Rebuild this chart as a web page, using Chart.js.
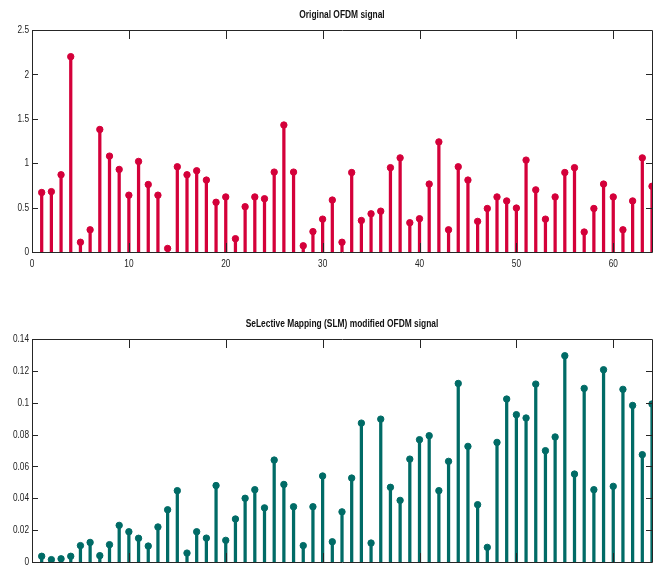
<!DOCTYPE html>
<html>
<head>
<meta charset="utf-8">
<script src="https://cdn.jsdelivr.net/npm/chart.js@4/dist/chart.umd.min.js"></script>
<style>
  html, body { margin: 0; padding: 0; background: #fff; overflow: hidden; }
  #wrap { position: relative; width: 662px; height: 565px; overflow: hidden; }
  .pane { position: absolute; left: 0; width: 662px; }
  #top { top: 0; height: 282px; }
  #bottom { top: 282px; height: 300px; }
</style>
</head>
<body>
<div id="wrap">
  <div class="pane" id="top"><canvas id="c1"></canvas></div>
  <div class="pane" id="bottom"><canvas id="c2"></canvas></div>
</div>
<script>
// Subcarrier index 1..64
const samples = Array.from({ length: 64 }, (_, i) => i + 1);

// Magnitude of the original OFDM symbol
const originalMag = [
  0.67, 0.68, 0.87, 2.20, 0.11, 0.25, 1.38, 1.08, 0.93, 0.64,
  1.02, 0.76, 0.64, 0.04, 0.96, 0.87, 0.915, 0.81, 0.56, 0.62,
  0.15, 0.51, 0.62, 0.60, 0.90, 1.43, 0.90, 0.07, 0.23, 0.37,
  0.585, 0.11, 0.895, 0.355, 0.43, 0.46, 0.95, 1.06, 0.33, 0.375,
  0.765, 1.24, 0.25, 0.96, 0.81, 0.345, 0.49, 0.62, 0.575, 0.495,
  1.035, 0.70, 0.37, 0.62, 0.895, 0.95, 0.225, 0.49, 0.765, 0.62,
  0.25, 0.575, 1.06, 0.74
];

// Magnitude after SeLective Mapping
const slmMag = [
  0.0036, 0.0015, 0.0020, 0.0036, 0.0103, 0.0123, 0.0040, 0.0109, 0.0230, 0.0190,
  0.0149, 0.0100, 0.0220, 0.0328, 0.0448, 0.0056, 0.0190, 0.0150, 0.0480, 0.0136,
  0.0270, 0.0400, 0.0454, 0.0340, 0.0640, 0.0487, 0.0347, 0.0103, 0.0347, 0.0540,
  0.0127, 0.0315, 0.0527, 0.0872, 0.0119, 0.0897, 0.0469, 0.0387, 0.0646, 0.0768,
  0.0793, 0.0448, 0.0632, 0.1121, 0.0726, 0.0360, 0.0092, 0.0751, 0.1023, 0.0925,
  0.0904, 0.1117, 0.0699, 0.0785, 0.1295, 0.0552, 0.1090, 0.0454, 0.1207, 0.0475,
  0.1084, 0.0983, 0.0674, 0.0992
];

const xTicks = [0, 10, 20, 30, 40, 50, 60];
const yTicksTop = [0, 0.5, 1, 1.5, 2, 2.5];
const yTicksBottom = [0, 0.02, 0.04, 0.06, 0.08, 0.1, 0.12, 0.14];

const titles = ['Original OFDM signal', 'SeLective Mapping (SLM) modified OFDM signal'];

const FONT = "'Liberation Sans', Arial, sans-serif";
const NARROW = 0.72;   // horizontal squeeze for the narrow lettering

function narrowText(ctx, text, x, y, align, squeeze) {
  ctx.save();
  ctx.translate(x, y);
  ctx.scale(squeeze, 1);
  ctx.textAlign = align;
  ctx.fillText(text, 0, 0);
  ctx.restore();
}

const fmt = v => String(+v.toFixed(2));

// Boxed axes with inward tick marks, tick labels and a title above the plot area
const framePlugin = {
  id: 'frame',
  afterDraw(chart, args, opts) {
    const { ctx, chartArea: a, scales: { x, y } } = chart;
    ctx.save();
    ctx.strokeStyle = '#262626';
    ctx.lineWidth = 1;
    ctx.beginPath();
    ctx.rect(Math.round(a.left) + 0.5, Math.round(a.top) + 0.5,
             Math.round(a.right - a.left), Math.round(a.bottom - a.top));
    ctx.stroke();
    ctx.beginPath();
    x.ticks.forEach(t => {
      const px = Math.round(x.getPixelForValue(t.value)) + 0.5;
      ctx.moveTo(px, a.bottom); ctx.lineTo(px, a.bottom - 9);
      ctx.moveTo(px, a.top); ctx.lineTo(px, a.top + 9);
    });
    y.ticks.forEach(t => {
      const py = Math.round(y.getPixelForValue(t.value)) + 0.5;
      ctx.moveTo(a.left, py); ctx.lineTo(a.left + 6, py);
      ctx.moveTo(a.right, py); ctx.lineTo(a.right - 6, py);
    });
    ctx.stroke();

    ctx.fillStyle = '#222';
    ctx.font = `11.5px ${FONT}`;
    ctx.textBaseline = 'middle';
    x.ticks.forEach(t => {
      narrowText(ctx, fmt(t.value), x.getPixelForValue(t.value), a.bottom + 12, 'center', NARROW);
    });
    y.ticks.forEach(t => {
      narrowText(ctx, fmt(t.value), a.left - 3, y.getPixelForValue(t.value), 'right', NARROW);
    });

    ctx.fillStyle = '#111';
    ctx.font = `bold 10.5px ${FONT}`;
    narrowText(ctx, opts.text, (a.left + a.right) / 2, a.top - opts.gap, 'center', 0.8);
    ctx.restore();
  }
};

function stemChart(canvasId, values, color, yMax, yTicks, pad, title, gap) {
  const pts = samples.map((s, i) => ({ x: s, y: values[i] }));
  return new Chart(document.getElementById(canvasId), {
    data: {
      datasets: [
        {
          type: 'scatter',
          data: pts,
          pointStyle: 'circle',
          pointRadius: 3.2,
          pointBackgroundColor: color,
          pointBorderColor: color,
          pointBorderWidth: 1,
          order: 0
        },
        {
          type: 'bar',
          data: pts,
          backgroundColor: color,
          barThickness: 2.6,
          order: 1
        }
      ]
    },
    options: {
      responsive: true,
      maintainAspectRatio: false,
      animation: false,
      events: [],
      layout: { padding: pad },
      plugins: {
        legend: { display: false },
        tooltip: { enabled: false },
        frame: { text: title, gap: gap }
      },
      scales: {
        x: {
          type: 'linear',
          min: 0,
          max: 64,
          offset: false,
          grid: { display: false },
          border: { display: false },
          afterBuildTicks: s => { s.ticks = xTicks.map(v => ({ value: v })); },
          afterFit: s => { s.height = 20; },
          ticks: { display: false }
        },
        y: {
          type: 'linear',
          min: 0,
          max: yMax,
          grid: { display: false },
          border: { display: false },
          afterBuildTicks: s => { s.ticks = yTicks.map(v => ({ value: v })); },
          afterFit: s => { s.width = 32; },
          ticks: { display: false }
        }
      }
    },
    plugins: [framePlugin]
  });
}

stemChart('c1', originalMag, '#d4003a', 2.5, yTicksTop,
  { left: 0, right: 10, top: 30, bottom: 10 }, titles[0], 15);
stemChart('c2', slmMag, '#006b66', 0.14, yTicksBottom,
  { left: 0, right: 10, top: 57, bottom: 0 }, titles[1], 15);
</script>
</body>
</html>
